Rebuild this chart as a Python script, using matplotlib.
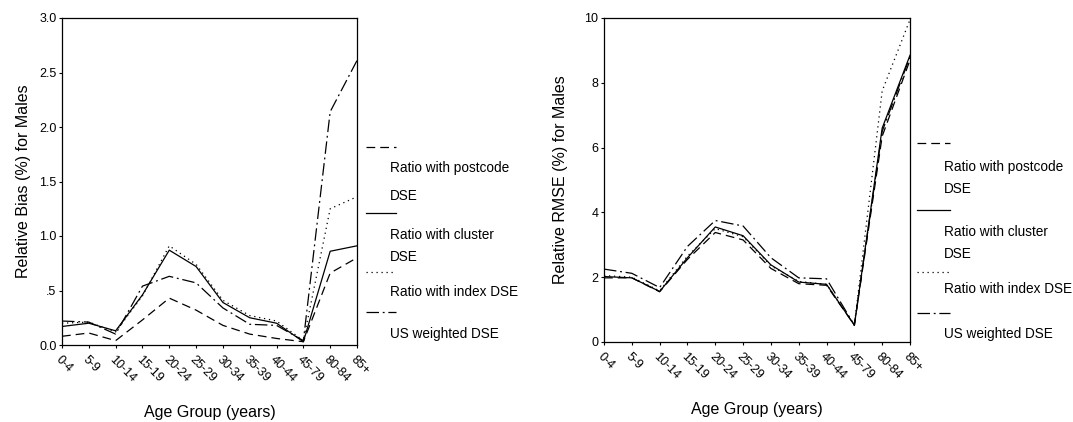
import matplotlib
matplotlib.use("Agg")
import matplotlib.pyplot as plt
from matplotlib.lines import Line2D

plt.rcParams['font.family'] = ['Liberation Sans', 'DejaVu Sans']

age_groups = ['0-4', '5-9', '10-14', '15-19', '20-24', '25-29', '30-34',
              '35-39', '40-44', '45-79', '80-84', '85+']

# Relative bias (%) for males
bias_postcode = [0.08, 0.11, 0.04, 0.23, 0.43, 0.32, 0.18, 0.10, 0.06, 0.03, 0.66, 0.80]
bias_cluster = [0.17, 0.20, 0.13, 0.46, 0.87, 0.72, 0.39, 0.25, 0.20, 0.03, 0.86, 0.91]
bias_index = [0.20, 0.21, 0.12, 0.45, 0.91, 0.74, 0.41, 0.27, 0.22, 0.04, 1.25, 1.36]
bias_us = [0.22, 0.21, 0.10, 0.54, 0.63, 0.57, 0.34, 0.19, 0.18, 0.04, 2.14, 2.61]

# Relative RMSE (%) for males
rmse_postcode = [1.98, 1.98, 1.55, 2.55, 3.38, 3.15, 2.27, 1.80, 1.75, 0.52, 6.35, 8.70]
rmse_cluster = [2.02, 1.98, 1.56, 2.60, 3.55, 3.28, 2.38, 1.85, 1.78, 0.52, 6.60, 8.85]
rmse_index = [2.05, 2.00, 1.58, 2.65, 3.50, 3.25, 2.35, 1.87, 1.78, 0.52, 7.75, 9.95]
rmse_us = [2.25, 2.12, 1.68, 2.95, 3.75, 3.58, 2.60, 1.98, 1.95, 0.52, 6.50, 8.80]

bias_ticks = [0, 0.5, 1.0, 1.5, 2.0, 2.5, 3.0]
bias_tick_labels = ['0.0', '.5', '1.0', '1.5', '2.0', '2.5', '3.0']
rmse_ticks = [0, 2, 4, 6, 8, 10]
rmse_tick_labels = ['0', '2', '4', '6', '8', '10']

styles = {
    'postcode': (0, (7, 4)),
    'cluster': '-',
    'index': (0, (1, 3)),
    'us': (0, (10, 3, 1.5, 3)),
}

W, H = 1073, 422
fig = plt.figure(figsize=(W / 100, H / 100), dpi=100)

ax1 = fig.add_axes([62 / W, 1 - 345 / H, 295 / W, 327 / H])
ax2 = fig.add_axes([604 / W, 1 - 342 / H, 306 / W, 324 / H])

x = list(range(len(age_groups)))
lw = 0.9

for ax, series, ticks, tlabels, ylim, ylabel, ypad in [
    (ax1, [bias_postcode, bias_cluster, bias_index, bias_us], bias_ticks,
     bias_tick_labels, (0, 3), 'Relative Bias (%) for Males', 5.5),
    (ax2, [rmse_postcode, rmse_cluster, rmse_index, rmse_us], rmse_ticks,
     rmse_tick_labels, (0, 10), 'Relative RMSE (%) for Males', 12),
]:
    for vals, key in zip(series, ['postcode', 'cluster', 'index', 'us']):
        ax.plot(x, vals, color='black', lw=lw, linestyle=styles[key])
    ax.set_xlim(0, len(age_groups) - 1)
    ax.set_ylim(*ylim)
    ax.set_yticks(ticks, tlabels, fontsize=9)
    ax.set_xticks(x, age_groups, fontsize=9, rotation=-45, ha='left',
                  va='top', rotation_mode='anchor')
    ax.tick_params(axis='both', direction='out', length=2, width=0.8,
                   pad=2, colors='black')
    ax.tick_params(axis='x', pad=4)
    for s in ax.spines.values():
        s.set_linewidth(0.9)
        s.set_color('black')
    ax.set_xlabel('Age Group (years)', fontsize=11.5, labelpad=15)
    ax.set_ylabel(ylabel, fontsize=11.5, labelpad=ypad)


def draw_legend(x0, x1, xt, line_ys, text_rows):
    keys = ['postcode', 'cluster', 'index', 'us']
    for key, ly in zip(keys, line_ys):
        fig.add_artist(Line2D([x0 / W, x1 / W], [1 - ly / H, 1 - ly / H],
                              transform=fig.transFigure, color='black',
                              lw=lw, linestyle=styles[key]))
    for txt, ty in text_rows:
        fig.text(xt / W, 1 - ty / H, txt, fontsize=9.8, ha='left',
                 va='center')


legend_lines = ['Ratio with postcode', 'DSE', 'Ratio with cluster', 'DSE',
                'Ratio with index DSE', 'US weighted DSE']

draw_legend(366, 396, 390, [147, 213, 272, 312],
            list(zip(legend_lines, [168, 196, 235, 257, 292, 334])))
draw_legend(917, 950, 944, [143, 210, 272, 313],
            list(zip(legend_lines, [167, 189, 232, 254, 289, 334])))

fig.savefig('out.png', dpi=100, facecolor='white')
